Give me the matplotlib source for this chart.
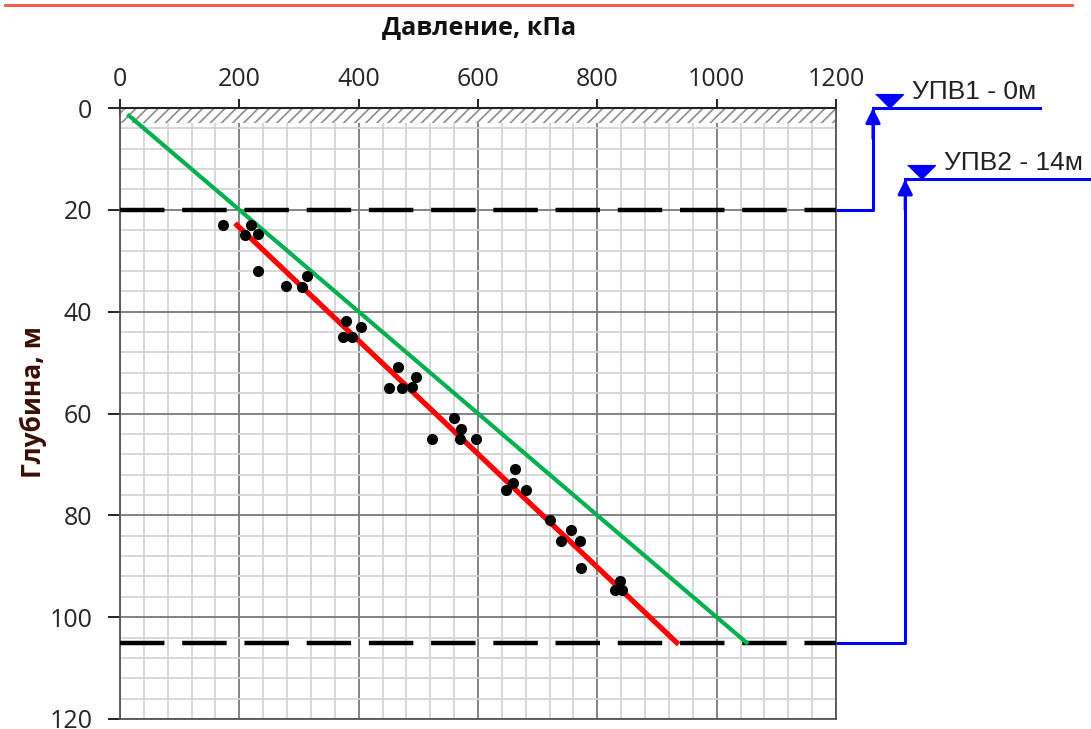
import numpy as np
import matplotlib.pyplot as plt
from matplotlib.lines import Line2D

# measured points: pressure (kPa) vs depth (m)
pressure = [173, 220, 210, 231, 231, 278, 313, 305, 379, 404, 374, 389,
            466, 496, 451, 473, 489, 560, 572, 523, 570, 597,
            662, 659, 647, 680, 721, 756, 739, 771, 773, 838, 830, 841]
depth = [23.0, 23.0, 25.0, 24.8, 32.0, 35.0, 33.0, 35.2, 41.8, 43.0, 45.0, 45.0,
         50.9, 52.8, 55.0, 55.0, 54.8, 60.9, 63.1, 65.0, 65.0, 65.0,
         70.9, 73.7, 75.0, 75.0, 80.9, 82.9, 85.0, 85.0, 90.4, 92.9, 94.7, 94.7]

# trend lines
hydro_p = [15, 1050]
hydro_d = [1.5, 105]
fit_p = [196, 933]
fit_d = [23, 105]

# boundaries and water levels
bound_depths = [20, 105]
upv_levels = [0, 14]
upv_labels = ['УПВ1 - 0м', 'УПВ2 - 14м']

fig = plt.figure(figsize=(10.91, 7.29), dpi=100)
ax = fig.add_axes([120 / 1091, 1 - 719 / 729, 716 / 1091, 611 / 729])

ax.set_xlim(0, 1200)
ax.set_ylim(120, 0)
ax.xaxis.tick_top()
ax.set_xticks(np.arange(0, 1201, 200))
ax.set_xticks(np.arange(0, 1201, 40), minor=True)
ax.set_yticks(np.arange(0, 121, 20))
ax.set_yticks(np.arange(0, 121, 4), minor=True)
ax.grid(which='minor', color='#d4d4d4', lw=1.3)
ax.grid(which='major', color='#7a7a7a', lw=1.3)
ax.set_axisbelow(True)
ax.tick_params(axis='x', which='major', direction='inout', length=13, width=1.2,
               pad=5, labelsize=18, labelcolor='#262626')
ax.tick_params(axis='y', which='major', direction='out', length=9, width=1.2,
               pad=11, labelsize=18, labelcolor='#262626')
ax.tick_params(which='minor', length=0)
for t in ax.get_xticklabels() + ax.get_yticklabels():
    t.set_family('Open Sans')
for s in ['left', 'right', 'bottom']:
    ax.spines[s].set_color('#555555')
    ax.spines[s].set_linewidth(1.3)
ax.spines['top'].set_color('#222222')
ax.spines['top'].set_linewidth(1.5)

# ground surface hatch
plt.rcParams['hatch.linewidth'] = 1.2
ax.fill_between([0, 1200], 0, 3, facecolor='white', hatch='///',
                edgecolor='#8c8c8c', linewidth=0, zorder=1)

for d in bound_depths:
    ax.plot([0, 1200], [d, d], color='black', lw=3.2,
            linestyle=(0, (10, 4)), zorder=3)

ax.plot(hydro_p, hydro_d, color='#00b050', lw=3, zorder=4)
ax.plot(fit_p, fit_d, color='#ff0000', lw=3.8, zorder=4)
ax.plot(pressure, depth, 'o', color='black', ms=7, zorder=5)

# water level callouts
blue = '#0000ff'
vx = [1262, 1316]
end_x = [1542, 1630]
for d, lvl, x, ex, lab in zip(bound_depths, upv_levels, vx, end_x, upv_labels):
    ax.plot([1200, x, x], [d, d, lvl], color=blue, lw=2.2, clip_on=False)
    ax.plot([x, ex], [lvl, lvl], color=blue, lw=2.2, clip_on=False)
    ax.annotate('', xy=(x, lvl), xytext=(x, lvl + 6), annotation_clip=False,
                arrowprops=dict(arrowstyle='-|>', color=blue, lw=2.2,
                                mutation_scale=22, shrinkA=0, shrinkB=0))
    ax.plot([x + 27], [lvl], marker=[(-1, 1), (1, 1), (0, 0)], ms=20,
            color=blue, clip_on=False)
    ax.text(x + 65, lvl - 3.2, lab, fontsize=19, family='Liberation Sans',
            color='#222222', va='center', ha='left', clip_on=False)

fig.text(479 / 1091, 1 - 28 / 729, 'Давление, кПа', ha='center', va='center',
         fontsize=18, fontweight='bold', family='Open Sans', color='#111111')
fig.text(33 / 1091, 1 - 402 / 729, 'Глубина, м', ha='center', va='center',
         rotation=90, fontsize=19, fontweight='bold', family='Open Sans',
         color='#3a0e04')

fig.add_artist(Line2D([5 / 1091, 1072 / 1091], [1 - 5 / 729, 1 - 5 / 729],
                      color='#f0563a', lw=2))

fig.savefig('out.png', dpi=100)
